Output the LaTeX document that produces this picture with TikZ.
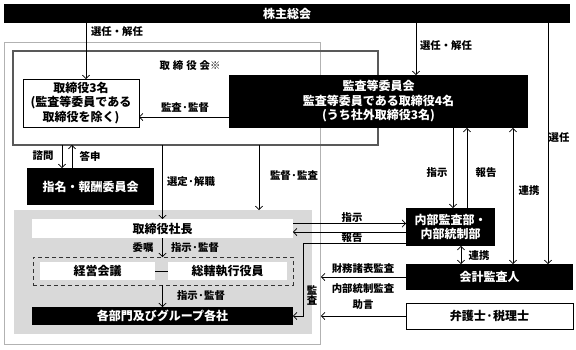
\documentclass[tikz,border=0pt]{standalone}
\usepackage{fontspec}
\setmainfont{Noto Sans CJK JP}
\usetikzlibrary{arrows.meta,calc}
\begin{document}
\begin{tikzpicture}[x=1pt,y=-1pt,
  tip/.tip={Straight Barb[length=3.5pt,width=7.5pt,line width=0.7pt]},
  arr/.style={draw,line width=0.7pt,-tip},
  darr/.style={draw,line width=0.7pt,tip-tip},
  ln/.style={draw,line width=0.7pt},
  boxfont/.style={font=\bfseries\fontsize{12}{14.5}\selectfont},
  blk/.style={fill=black,text=white,inner sep=0pt,outer sep=0pt,align=center,boxfont},
  wht/.style={draw=black,fill=white,line width=0.8pt,inner sep=0pt,outer sep=0pt,align=center,boxfont},
  plain/.style={fill=white,inner sep=0pt,outer sep=0pt,align=center,boxfont},
  lbl/.style={inner sep=0pt,font=\bfseries\fontsize{10.4}{12}\selectfont,align=center}
]
\useasboundingbox (0,0) rectangle (576,349);
\fill[white] (0,0) rectangle (576,349);

% frames
\node[draw=black!30,line width=1pt,inner sep=0pt,outer sep=0pt,minimum width=316pt,minimum height=302pt] (outer) at (162,193) {};
\node[fill=black!15,inner sep=0pt,outer sep=0pt,minimum width=298pt,minimum height=124pt] (exec) at (163,272) {};
\node[draw=black!65,line width=1.3pt,inner sep=0pt,outer sep=0pt,minimum width=365pt,minimum height=94pt] (bod) at (195.5,98) {};
\node[lbl] (bodlbl) at (190,66) {取\hspace{3pt}締\hspace{3pt}役\hspace{3pt}会※};

% boxes
\node[blk,minimum width=566pt,minimum height=19pt] (kabu) at (287,13.5) {株主総会};
\node[wht,minimum width=116pt,minimum height=48pt] (tor3) at (81,103) {取締役3名\\(監査等委員である\\取締役を除く)};
\node[blk,minimum width=299pt,minimum height=53pt] (kansa) at (378.5,101.5) {監査等委員会\\監査等委員である取締役4名\\(うち社外取締役3名)};
\node[blk,minimum width=127pt,minimum height=37pt] (shimei) at (90.5,186.5) {指名・報酬委員会};
\node[plain,minimum width=261pt,minimum height=19pt] (shacho) at (162.5,228.5) {取締役社長};
\node[draw=black!80,dashed,dash pattern=on 4pt off 3pt,line width=1pt,inner sep=0pt,outer sep=0pt,minimum width=260pt,minimum height=28pt] (dash) at (163,271) {};
\node[plain,minimum width=115pt,minimum height=18pt] (keiei) at (97.5,271) {経営会議};
\node[plain,minimum width=119pt,minimum height=18pt] (sokatsu) at (227.5,271) {総轄執行役員};
\node[blk,minimum width=261pt,minimum height=18pt] (kakubu) at (162.5,316) {各部門及びグループ各社};
\node[blk,minimum width=89pt,minimum height=38pt] (naibu) at (450.5,227) {内部監査部・\\内部統制部};
\node[blk,minimum width=167pt,minimum height=26pt] (kaikei) at (489.5,277) {会計監査人};
\node[wht,minimum width=167pt,minimum height=26pt] (bengo) at (489.5,316) {弁護士·税理士};

% helper coordinates
\coordinate (cA) at ($(tor3.north)+(5,0)$);
\coordinate (cB) at ($(kansa.north)+(37.5,0)$);
\coordinate (cC) at ($(kaikei.north)+(58.5,0)$);
\coordinate (cD) at ($(kansa.west)+(0,15.5)$);
\coordinate (cE) at ($(shimei.north)+(-28.5,0)$);
\coordinate (cF) at ($(shimei.north)+(-18.5,0)$);
\coordinate (cG) at ($(shacho.north)+(96.5,0)$);
\coordinate (cH) at ($(naibu.west)+(0,-3.5)$);
\coordinate (cI) at ($(naibu.west)+(0,5)$);
\coordinate (cJ) at ($(naibu.west)+(0,16)$);
\coordinate (cK) at ($(kakubu.east)+(10,0)$);
\coordinate (cL) at ($(kaikei.west -| outer.east)+(1,0)$);
\coordinate (cM) at ($(bengo.west -| outer.east)+(1,0)$);
\coordinate (cN) at ($(naibu.north)+(2.5,0)$);
\coordinate (cO) at ($(naibu.north)+(16.5,0)$);
\coordinate (cP) at ($(naibu.south)+(10.5,0)$);
\coordinate (cQ) at ($(kaikei.north)+(23.5,0)$);

% connectors
\draw[arr] (cA |- kabu.south) -- (cA);
\draw[arr] (cB |- kabu.south) -- (cB);
\draw[arr] (cC |- kabu.south) -- (cC);
\draw[arr] (cD) -- (cD -| tor3.east);
\draw[arr] (cE |- bod.south) -- (cE);
\draw[arr] (cF) -- (cF |- bod.south);
\draw[arr] (bod.south -| shacho.north) -- (shacho.north);
\draw[arr] (cG |- bod.south) -- (cG |- exec.north);
\draw[arr] (shacho.south) -- (shacho.south |- dash.north);
\draw[ln] (keiei.east) -- (sokatsu.west);
\draw[arr] (dash.south -| kakubu.north) -- (kakubu.north);
\draw[arr] (cH -| shacho.east) -- (cH);
\draw[arr] (cI) -- (cI -| shacho.east);
\draw[arr] (cJ) -| (cK) -- (kakubu.east);
\draw[arr] (kaikei.west) -- (cL);
\draw[arr] (bengo.west) -- (cM);
\draw[arr] (cN |- kansa.south) -- (cN);
\draw[arr] (cO) -- (cO |- kansa.south);
\draw[darr] (cP) -- (cP |- kaikei.north);
\draw[darr] (cQ |- kansa.south) -- (cQ);

% labels
\node[lbl] (l1) at (117,32) {選任・解任};
\node[lbl] (l2) at (446,46) {選任・解任};
\node[lbl] (l3) at (559,138) {選任};
\node[lbl] (l4) at (185,108) {監査·監督};
\node[lbl] (l5) at (43,156) {諮問};
\node[lbl] (l6) at (90,156) {答申};
\node[lbl] (l7) at (191,182) {選定·解職};
\node[lbl] (l8) at (294,176) {監督·監査};
\node[lbl] (l9) at (143,248) {委嘱};
\node[lbl] (l10) at (195,248) {指示·監督};
\node[lbl] (l11) at (201,296) {指示·監督};
\node[lbl] (l12) at (352,218) {指示};
\node[lbl] (l13) at (352,238) {報告};
\node[lbl] (l14) at (312,295) {監\\[-2pt]査};
\node[lbl] (l15) at (363,269) {財務諸表監査};
\node[lbl] (l16) at (363,289) {内部統制監査};
\node[lbl] (l17) at (363,305) {助言};
\node[lbl] (l18) at (479,256) {連携};
\node[lbl] (l19) at (529,191) {連携};
\node[lbl] (l20) at (437,173) {指示};
\node[lbl] (l21) at (486,173) {報告};
\end{tikzpicture}
\end{document}
